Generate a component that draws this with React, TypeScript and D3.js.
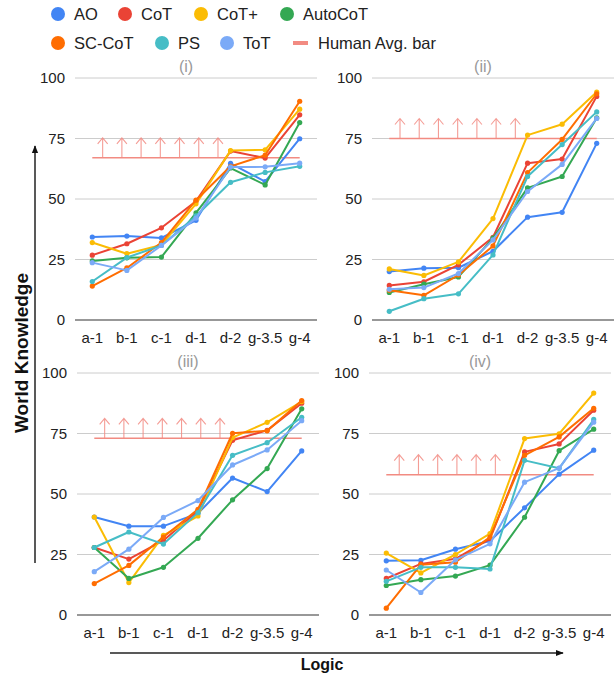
import { useEffect, useRef } from "react";
import * as d3 from "d3";

const categories = ["a-1", "b-1", "c-1", "d-1", "d-2", "g-3.5", "g-4"];
const seriesNames = ["AO", "CoT", "CoT+", "AutoCoT", "SC-CoT", "PS", "ToT"];
const seriesColors = ["#4285f4", "#ea4335", "#fbbc04", "#34a853", "#ff6d01", "#46bdc6", "#7baaf7"];
const panelTitles = ["(i)", "(ii)", "(iii)", "(iv)"];
const yTicks = [0, 25, 50, 75, 100];

// rows follow seriesNames order
const valuesI = [
    [34.3, 34.7, 33.9, 41.2, 64.7, 57.2, 74.9],
    [26.8, 31.5, 38.1, 49.1, 69.8, 66.9, 84.8],
    [32.0, 27.4, 31.0, 48.0, 70.0, 70.3, 87.1],
    [24.4, 25.7, 26.0, 44.3, 62.8, 55.8, 81.6],
    [14.0, 21.5, 32.0, 49.5, 63.5, 68.1, 90.4],
    [15.9, 25.8, 30.8, 43.0, 56.9, 61.0, 63.5],
    [23.7, 20.5, 30.8, 42.1, 63.2, 63.3, 64.8],
];
const valuesII = [
    [20.0, 21.4, 21.6, 28.4, 42.5, 44.5, 73.0],
    [14.3, 15.8, 22.8, 34.2, 64.8, 66.5, 92.4],
    [21.1, 18.4, 24.0, 41.9, 76.4, 80.9, 94.2],
    [11.4, 14.8, 17.8, 33.8, 54.6, 59.3, 83.5],
    [12.3, 10.2, 18.6, 30.6, 60.9, 74.6, 93.5],
    [3.6, 8.8, 10.8, 26.9, 59.3, 72.5, 86.0],
    [12.7, 13.4, 19.2, 33.1, 53.1, 64.3, 83.3],
];
const valuesIII = [
    [40.5, 36.7, 36.7, 42.0, 56.6, 51.0, 67.8],
    [27.9, 23.1, 30.8, 43.1, 72.2, 76.3, 87.5],
    [40.5, 13.4, 32.9, 40.9, 73.3, 79.6, 88.2],
    [27.9, 15.1, 19.7, 31.7, 47.6, 60.5, 85.2],
    [13.0, 20.5, 32.2, 43.7, 75.1, 76.1, 88.6],
    [27.9, 34.3, 29.3, 42.3, 66.0, 71.2, 81.7],
    [17.9, 27.2, 40.3, 47.3, 62.0, 68.2, 80.3],
];
const valuesIV = [
    [22.4, 22.6, 27.2, 30.6, 44.3, 58.2, 68.1],
    [15.1, 21.1, 23.2, 31.5, 67.4, 70.7, 84.6],
    [25.6, 17.4, 25.0, 33.6, 72.9, 74.9, 91.7],
    [12.2, 14.6, 16.1, 20.6, 40.4, 67.9, 76.8],
    [2.8, 20.8, 21.8, 32.2, 66.0, 73.6, 85.4],
    [13.9, 19.7, 19.7, 19.0, 63.9, 60.6, 80.8],
    [18.6, 9.3, 22.8, 29.4, 54.9, 60.7, 79.7],
];
const humanAvg = [67, 75, 73, 58];
// arrow marks above each human bar: count and first offset (in category steps)
const arrowCounts = [7, 7, 7, 6];
const arrowStarts = [0.3, 0.31, 0.3, 0.375];

const FONT = "'Liberation Sans', Arial, sans-serif";

const App = () => {
    const svgRef = useRef<SVGSVGElement>(null);

    useEffect(() => {
        const svg = d3.select(svgRef.current);
        svg.selectAll("*").remove();

        const panels = [
            { vals: valuesI, x0: 75, x1: 317, top: 78, bottom: 320 },
            { vals: valuesII, x0: 372, x1: 614, top: 78, bottom: 320 },
            { vals: valuesIII, x0: 77, x1: 319, top: 373, bottom: 615 },
            { vals: valuesIV, x0: 369, x1: 611, top: 373, bottom: 615 },
        ];

        const humanColor = "#f28b82";

        panels.forEach((p, pi) => {
            const g = svg.append("g");
            const x = d3.scalePoint<string>().domain(categories).range([p.x0, p.x1]).padding(0.5);
            const y = d3.scaleLinear().domain([0, 100]).range([p.bottom, p.top]);
            const step = x.step();

            // gridlines + tick labels
            yTicks.forEach((t) => {
                g.append("line")
                    .attr("x1", p.x0).attr("x2", p.x1)
                    .attr("y1", y(t)).attr("y2", y(t))
                    .attr("stroke", t === 0 ? "#333" : "#ccc")
                    .attr("stroke-width", t === 0 ? 1.2 : 1);
                g.append("text")
                    .attr("x", p.x0 - 10).attr("y", y(t))
                    .attr("dy", "0.35em")
                    .attr("text-anchor", "end")
                    .attr("font-size", 15)
                    .attr("fill", "#222")
                    .text(t);
            });

            // category labels
            categories.forEach((c) => {
                g.append("text")
                    .attr("x", x(c)!).attr("y", p.bottom + 22.5)
                    .attr("text-anchor", "middle")
                    .attr("font-size", 15)
                    .attr("fill", "#222")
                    .text(c);
            });

            // panel title
            g.append("text")
                .attr("x", (p.x0 + p.x1) / 2 - 10).attr("y", p.top - 6)
                .attr("text-anchor", "middle")
                .attr("font-size", 16)
                .attr("fill", "#999")
                .text(panelTitles[pi]);

            // human avg bar with arrows
            const hy = y(humanAvg[pi]);
            g.append("line")
                .attr("x1", x(categories[0])!).attr("x2", x(categories[categories.length - 1])!)
                .attr("y1", hy).attr("y2", hy)
                .attr("stroke", humanColor).attr("stroke-width", 1.5);
            const xStart = x(categories[0])!;
            for (let k = 0; k < arrowCounts[pi]; k++) {
                const ax = xStart + (arrowStarts[pi] + k * 0.556) * step;
                const tip = hy - 20;
                g.append("path")
                    .attr("d", `M${ax},${hy}V${tip}M${ax - 5},${tip + 6}L${ax},${tip}L${ax + 5},${tip + 6}`)
                    .attr("fill", "none")
                    .attr("stroke", humanColor)
                    .attr("stroke-width", 1.1)
                    .attr("opacity", 0.85);
            }

            // series lines
            const line = d3.line<number>()
                .x((_, i) => x(categories[i])!)
                .y((d) => y(d));
            p.vals.forEach((vals, si) => {
                g.append("path")
                    .datum(vals)
                    .attr("fill", "none")
                    .attr("stroke", seriesColors[si])
                    .attr("stroke-width", 2)
                    .attr("stroke-linejoin", "round")
                    .attr("d", line);
                g.selectAll(null)
                    .data(vals)
                    .enter()
                    .append("circle")
                    .attr("cx", (_, i) => x(categories[i])!)
                    .attr("cy", (d) => y(d))
                    .attr("r", 2.6)
                    .attr("fill", seriesColors[si]);
            });
        });

        // legend
        const legendItems = [
            { row: 0, cx: 58 }, { row: 0, cx: 125 }, { row: 0, cx: 201 }, { row: 0, cx: 287 },
            { row: 1, cx: 58 }, { row: 1, cx: 162 }, { row: 1, cx: 227 },
        ];
        const legend = svg.append("g");
        seriesNames.forEach((name, i) => {
            const it = legendItems[i];
            const cy = it.row === 0 ? 14 : 43;
            legend.append("circle").attr("cx", it.cx).attr("cy", cy).attr("r", 7).attr("fill", seriesColors[i]);
            legend.append("text")
                .attr("x", it.cx + 16).attr("y", cy)
                .attr("dy", "0.36em")
                .attr("font-size", 16.5)
                .attr("fill", "#222")
                .text(name);
        });
        legend.append("line")
            .attr("x1", 293).attr("x2", 308).attr("y1", 43).attr("y2", 43)
            .attr("stroke", humanColor).attr("stroke-width", 4);
        legend.append("text")
            .attr("x", 318).attr("y", 43)
            .attr("dy", "0.36em")
            .attr("font-size", 16.5)
            .attr("fill", "#222")
            .text("Human Avg. bar");

        // axis arrows and titles
        const defs = svg.append("defs");
        defs.append("marker")
            .attr("id", "arrowHead")
            .attr("viewBox", "0 0 10 10")
            .attr("refX", 9).attr("refY", 5)
            .attr("markerWidth", 8).attr("markerHeight", 8)
            .attr("markerUnits", "userSpaceOnUse")
            .attr("orient", "auto")
            .append("path")
            .attr("d", "M0,1L10,5L0,9Z")
            .attr("fill", "#111");

        svg.append("line")
            .attr("x1", 35).attr("x2", 35).attr("y1", 563).attr("y2", 146)
            .attr("stroke", "#222").attr("stroke-width", 1.5)
            .attr("marker-end", "url(#arrowHead)");
        svg.append("line")
            .attr("x1", 110).attr("x2", 563).attr("y1", 653).attr("y2", 653)
            .attr("stroke", "#222").attr("stroke-width", 1.5)
            .attr("marker-end", "url(#arrowHead)");

        svg.append("text")
            .attr("transform", "translate(28,353) rotate(-90)")
            .attr("text-anchor", "middle")
            .attr("font-size", 19)
            .attr("font-weight", "bold")
            .attr("fill", "#111")
            .text("World Knowledge");
        svg.append("text")
            .attr("x", 322).attr("y", 670)
            .attr("text-anchor", "middle")
            .attr("font-size", 16)
            .attr("font-weight", "bold")
            .attr("fill", "#111")
            .text("Logic");
    }, []);

    return (
        <svg
            ref={svgRef}
            width={614}
            height={675}
            style={{ position: "absolute", left: 0, top: 0, background: "#fff", fontFamily: FONT }}
        ></svg>
    );
};

export default App;
